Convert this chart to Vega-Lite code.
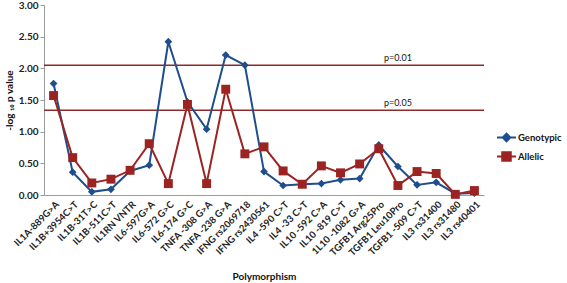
{
  "$schema": "https://vega.github.io/schema/vega-lite/v6.json",
  "width": 440,
  "height": 190,
  "autosize": "none",
  "padding": {"left": 44, "top": 5, "right": 83, "bottom": 88},
  "background": "white",
  "config": {"view": {"stroke": null}, "font": "Lato"},
  "datasets": {
    "series": [
      {"snp": "IL1A-889G>A", "series": "Genotypic", "value": 1.76},
      {"snp": "IL1B+3954C>T", "series": "Genotypic", "value": 0.36},
      {"snp": "IL1B-31T>C", "series": "Genotypic", "value": 0.05},
      {"snp": "IL1B-511C>T", "series": "Genotypic", "value": 0.09},
      {"snp": "IL1RN VNTR", "series": "Genotypic", "value": 0.38},
      {"snp": "IL6-597G>A", "series": "Genotypic", "value": 0.47},
      {"snp": "IL6-572 G>C", "series": "Genotypic", "value": 2.42},
      {"snp": "IL6-174 G>C", "series": "Genotypic", "value": 1.47},
      {"snp": "TNFA -308 G>A", "series": "Genotypic", "value": 1.04},
      {"snp": "TNFA -238 G>A", "series": "Genotypic", "value": 2.21},
      {"snp": "IFNG rs2069718", "series": "Genotypic", "value": 2.05},
      {"snp": "IFNG rs2430561", "series": "Genotypic", "value": 0.37},
      {"snp": "IL4 -590 C>T", "series": "Genotypic", "value": 0.15},
      {"snp": "IL4 -33 C>T", "series": "Genotypic", "value": 0.17},
      {"snp": "IL10 -592 C>A", "series": "Genotypic", "value": 0.18},
      {"snp": "IL10 -819 C>T", "series": "Genotypic", "value": 0.24},
      {"snp": "1L10 -1082 G>A", "series": "Genotypic", "value": 0.26},
      {"snp": "TGFB1 Arg25Pro", "series": "Genotypic", "value": 0.79},
      {"snp": "TGFB1 Leu10Pro", "series": "Genotypic", "value": 0.45},
      {"snp": "TGFB1 -509 C>T", "series": "Genotypic", "value": 0.16},
      {"snp": "IL3 rs31400", "series": "Genotypic", "value": 0.2},
      {"snp": "IL3 rs31480", "series": "Genotypic", "value": 0.02},
      {"snp": "IL3 rs40401", "series": "Genotypic", "value": 0.03},
      {"snp": "IL1A-889G>A", "series": "Allelic", "value": 1.57},
      {"snp": "IL1B+3954C>T", "series": "Allelic", "value": 0.59},
      {"snp": "IL1B-31T>C", "series": "Allelic", "value": 0.19},
      {"snp": "IL1B-511C>T", "series": "Allelic", "value": 0.25},
      {"snp": "IL1RN VNTR", "series": "Allelic", "value": 0.39},
      {"snp": "IL6-597G>A", "series": "Allelic", "value": 0.81},
      {"snp": "IL6-572 G>C", "series": "Allelic", "value": 0.18},
      {"snp": "IL6-174 G>C", "series": "Allelic", "value": 1.43},
      {"snp": "TNFA -308 G>A", "series": "Allelic", "value": 0.18},
      {"snp": "TNFA -238 G>A", "series": "Allelic", "value": 1.67},
      {"snp": "IFNG rs2069718", "series": "Allelic", "value": 0.65},
      {"snp": "IFNG rs2430561", "series": "Allelic", "value": 0.76},
      {"snp": "IL4 -590 C>T", "series": "Allelic", "value": 0.38},
      {"snp": "IL4 -33 C>T", "series": "Allelic", "value": 0.17},
      {"snp": "IL10 -592 C>A", "series": "Allelic", "value": 0.46},
      {"snp": "IL10 -819 C>T", "series": "Allelic", "value": 0.35},
      {"snp": "1L10 -1082 G>A", "series": "Allelic", "value": 0.49},
      {"snp": "TGFB1 Arg25Pro", "series": "Allelic", "value": 0.73},
      {"snp": "TGFB1 Leu10Pro", "series": "Allelic", "value": 0.15},
      {"snp": "TGFB1 -509 C>T", "series": "Allelic", "value": 0.37},
      {"snp": "IL3 rs31400", "series": "Allelic", "value": 0.34},
      {"snp": "IL3 rs31480", "series": "Allelic", "value": 0.01},
      {"snp": "IL3 rs40401", "series": "Allelic", "value": 0.07}
    ],
    "refs": [
      {"snp": "TGFB1 Leu10Pro", "label": "p=0.01", "value": 2.05},
      {"snp": "TGFB1 Leu10Pro", "label": "p=0.05", "value": 1.34}
    ]
  },
  "encoding": {
    "x": {
      "field": "snp", "type": "nominal", "sort": null,
      "scale": {
        "type": "point", "padding": 0.5,
        "domain": ["IL1A-889G>A", "IL1B+3954C>T", "IL1B-31T>C", "IL1B-511C>T", "IL1RN VNTR", "IL6-597G>A", "IL6-572 G>C", "IL6-174 G>C", "TNFA -308 G>A", "TNFA -238 G>A", "IFNG rs2069718", "IFNG rs2430561", "IL4 -590 C>T", "IL4 -33 C>T", "IL10 -592 C>A", "IL10 -819 C>T", "1L10 -1082 G>A", "TGFB1 Arg25Pro", "TGFB1 Leu10Pro", "TGFB1 -509 C>T", "IL3 rs31400", "IL3 rs31480", "IL3 rs40401"]
      },
      "axis": {
        "title": "Polymorphism", "labelAngle": -45, "labelFontSize": 9.5, "labelFontWeight": "bold",
        "labelColor": "#222222", "ticks": false, "labelPadding": 4, "domainColor": "#9a9a9a",
        "titleFontSize": 10, "titleFontWeight": "bold", "titleColor": "#111111", "titleY": 76
      }
    },
    "y": {
      "field": "value", "type": "quantitative",
      "scale": {"domain": [0, 3], "nice": false, "zero": true},
      "axis": {
        "values": [0, 0.5, 1, 1.5, 2, 2.5, 3], "format": ".2f", "title": "-log ₁₀ p value", "grid": false,
        "labelFontSize": 10, "labelFontWeight": "bold", "labelColor": "#222222", "labelPadding": 2,
        "tickSize": 4, "tickColor": "#9a9a9a", "domainColor": "#9a9a9a",
        "titleFontSize": 10, "titleFontWeight": "bold", "titleColor": "#111111", "titlePadding": 4
      }
    }
  },
  "layer": [
    {
      "data": {"name": "refs"},
      "mark": {"type": "rule", "color": "#8B2A2A", "strokeWidth": 1.5},
      "encoding": {"x": null}
    },
    {
      "data": {"name": "refs"},
      "mark": {"type": "text", "dy": -7, "fontSize": 9, "color": "#111111"},
      "encoding": {"text": {"field": "label"}}
    },
    {
      "data": {"name": "series"},
      "transform": [{"filter": "datum.series === 'Genotypic'"}],
      "mark": {"type": "line", "strokeWidth": 2},
      "encoding": {
        "color": {
          "field": "series", "type": "nominal",
          "scale": {"domain": ["Genotypic", "Allelic"], "range": ["#1F4E8C", "#9B2423"]},
          "legend": {
            "orient": "none", "legendX": 452, "legendY": 122, "title": null, "padding": 0,
            "symbolSize": 361, "symbolStrokeWidth": 2, "labelFontSize": 9.5, "labelFontWeight": "bold",
            "labelColor": "#111111", "rowPadding": -9, "labelOffset": 1,
            "encode": {
              "symbols": {
                "update": {
                  "shape": {"signal": "datum.value === 'Genotypic' ? 'M-1,0H1M0,-0.4L0.4,0L0,0.4L-0.4,0Z' : 'M-1,0H1M-0.45,-0.45H0.45V0.45H-0.45Z'"},
                  "fill": {"signal": "datum.value === 'Genotypic' ? '#1F4E8C' : '#9B2423'"},
                  "stroke": {"signal": "datum.value === 'Genotypic' ? '#1F4E8C' : '#9B2423'"},
                  "fillOpacity": {"value": 1},
                  "strokeWidth": {"value": 2}
                }
              }
            }
          }
        }
      }
    },
    {
      "data": {"name": "series"},
      "transform": [{"filter": "datum.series === 'Genotypic'"}],
      "mark": {"type": "point", "shape": "diamond", "filled": true, "size": 60, "opacity": 1},
      "encoding": {"color": {"field": "series", "type": "nominal"}}
    },
    {
      "data": {"name": "series"},
      "transform": [{"filter": "datum.series === 'Allelic'"}],
      "mark": {"type": "line", "strokeWidth": 2},
      "encoding": {"color": {"field": "series", "type": "nominal"}}
    },
    {
      "data": {"name": "series"},
      "transform": [{"filter": "datum.series === 'Allelic'"}],
      "mark": {"type": "point", "shape": "square", "filled": true, "size": 80, "opacity": 1},
      "encoding": {"color": {"field": "series", "type": "nominal"}}
    }
  ]
}
